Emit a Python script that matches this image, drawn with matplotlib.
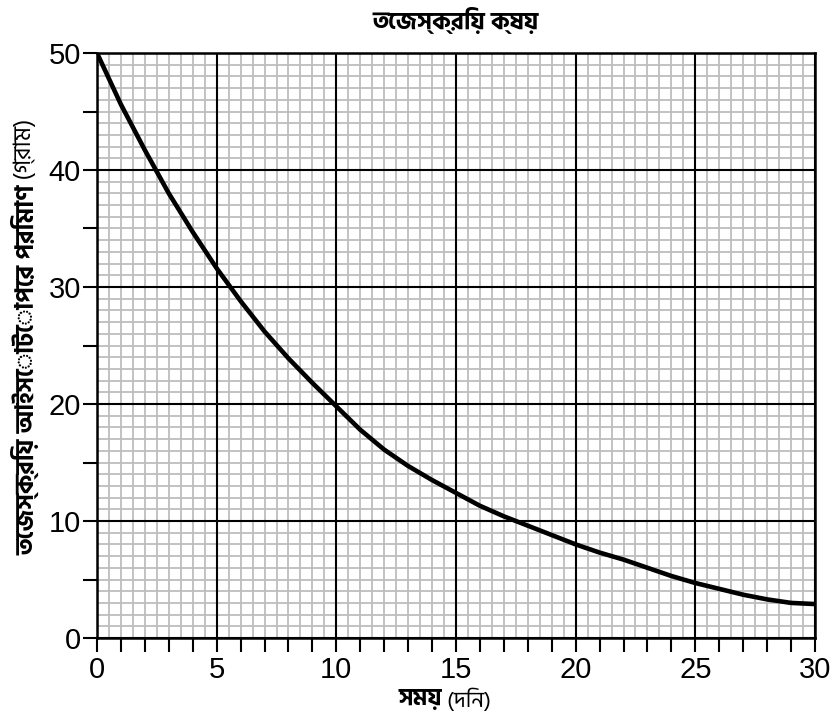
import numpy as np
import matplotlib
matplotlib.use("Agg")
import matplotlib.pyplot as plt
from matplotlib.ticker import MultipleLocator

# data
days = [0, 1, 2, 3, 4, 5, 6, 7, 8, 9, 10, 11, 12, 13, 14, 15,
        16, 17, 18, 19, 20, 21, 22, 23, 24, 25, 26, 27, 28, 29, 30]
mass = [50.0, 45.6, 41.7, 38.0, 34.7, 31.6, 28.8, 26.2, 23.9, 21.8, 19.8,
        17.8, 16.1, 14.7, 13.5, 12.4, 11.3, 10.4, 9.6, 8.8, 8.0,
        7.3, 6.7, 6.0, 5.3, 4.7, 4.2, 3.7, 3.3, 3.0, 2.9]
x_ticks = [0, 5, 10, 15, 20, 25, 30]
y_ticks = [0, 10, 20, 30, 40, 50]

title = "তেজস্ক্রিয় ক্ষয়"
xlabel_bold, xlabel_reg = "সময়", " (দিন)"
ylabel_bold, ylabel_reg = "তেজস্ক্রিয় আইসোটোপের পরিমাণ", " (গ্রাম)"

bn = ["Hind Siliguri", "Noto Sans Bengali", "DejaVu Sans"]
plt.rcParams["font.family"] = ["Liberation Sans", "DejaVu Sans"]

fig = plt.figure(figsize=(8.35, 7.21), dpi=100)
ax = fig.add_axes([97 / 835, 1 - 638 / 721, 718 / 835, 585 / 721])

# graph paper
for v in np.arange(0, 30.01, 0.5):
    ax.axvline(v, color="#bdbdbd", lw=1.3, zorder=1)
for v in np.arange(0, 50.01, 1):
    ax.axhline(v, color="#bdbdbd", lw=1.3, zorder=1)
for v in x_ticks:
    ax.axvline(v, color="black", lw=1.5, zorder=2)
for v in y_ticks:
    ax.axhline(v, color="black", lw=1.5, zorder=2)

ax.plot(days, mass, color="black", lw=3.3, solid_joinstyle="round", zorder=3)

ax.set_xlim(0, 30)
ax.set_ylim(0, 50)
ax.set_xticks(x_ticks)
ax.set_yticks(y_ticks)
ax.xaxis.set_minor_locator(MultipleLocator(1))
ax.yaxis.set_minor_locator(MultipleLocator(5))
ax.tick_params(which="both", direction="out", length=10, width=1.5, color="black",
               labelsize=21, pad=1.5)
ax.tick_params(axis="x", which="major", pad=3)
for s in ax.spines.values():
    s.set_linewidth(1.8)
    s.set_zorder(4)

ax.text(0.5, 1 + 32 / 585, title, transform=ax.transAxes, ha="center", va="center",
        fontsize=17.5, fontweight="bold", family=bn)

tx = fig.text(399 / 835, 1 - 699 / 721, xlabel_bold, ha="left", va="center",
              fontsize=17, fontweight="bold", family=bn)
ax.annotate(xlabel_reg, xy=(1, 0.5), xycoords=tx, ha="left", va="center",
            fontsize=16, family=bn)

ty = fig.text(25 / 835, 1 - 370 / 721, ylabel_bold, rotation=90, ha="center",
              va="center", fontsize=18, fontweight="bold", family=bn)
ax.annotate(ylabel_reg, xy=(0.5, 1), xycoords=ty, rotation=90, ha="center",
            va="bottom", fontsize=17, family=bn)

fig.savefig("out.png")
